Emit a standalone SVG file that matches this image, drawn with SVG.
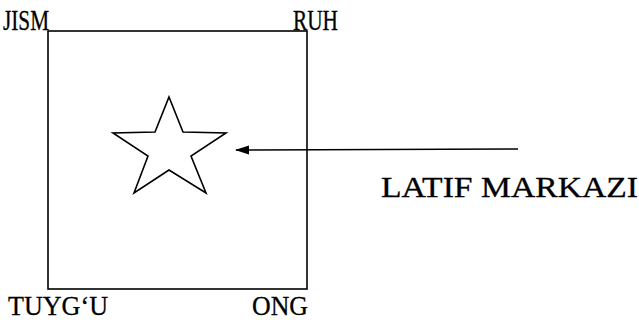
<svg xmlns="http://www.w3.org/2000/svg" width="639" height="320" viewBox="0 0 639 320">
<style>
.lbl{font-family:"Liberation Serif","Times New Roman",serif;fill:#000;stroke:#000;stroke-width:0.3;}
.ln{stroke:#000;stroke-width:1.6;fill:none;}
</style>
<defs>
<marker id="ah" viewBox="0 0 14 10" markerWidth="14" markerHeight="10" refX="13" refY="5" orient="auto" markerUnits="userSpaceOnUse">
<path d="M0,0.5 L14,5 L0,9.5 Z" fill="#000"/>
</marker>
</defs>
<rect width="639" height="320" fill="#fff"/>
<g id="box">
<rect class="ln" x="48" y="31" width="259" height="258"/>
</g>
<g id="star">
<polygon class="ln" stroke-width="1.3" points="169,97 183,132 226,133 191,156 206,193 169,170 134,193 148,156 113,133 155,132"/>
</g>
<g id="connectors">
<line class="ln" x1="518" y1="149" x2="236" y2="150" marker-end="url(#ah)"/>
</g>
<g id="labels">
<text id="jism" class="lbl" x="3" y="30" font-size="29" textLength="46" lengthAdjust="spacingAndGlyphs">JISM</text>
<text id="ruh" class="lbl" x="293" y="30" font-size="29" textLength="45" lengthAdjust="spacingAndGlyphs">RUH</text>
<text id="tuygu" class="lbl" x="8" y="315" font-size="28" textLength="100" lengthAdjust="spacingAndGlyphs">TUYG‘U</text>
<text id="ong" class="lbl" x="252" y="315" font-size="28" textLength="56" lengthAdjust="spacingAndGlyphs">ONG</text>
<text id="latif" class="lbl" x="381" y="197" font-size="29" textLength="257" lengthAdjust="spacingAndGlyphs">LATIF MARKAZI</text>
</g>
</svg>
